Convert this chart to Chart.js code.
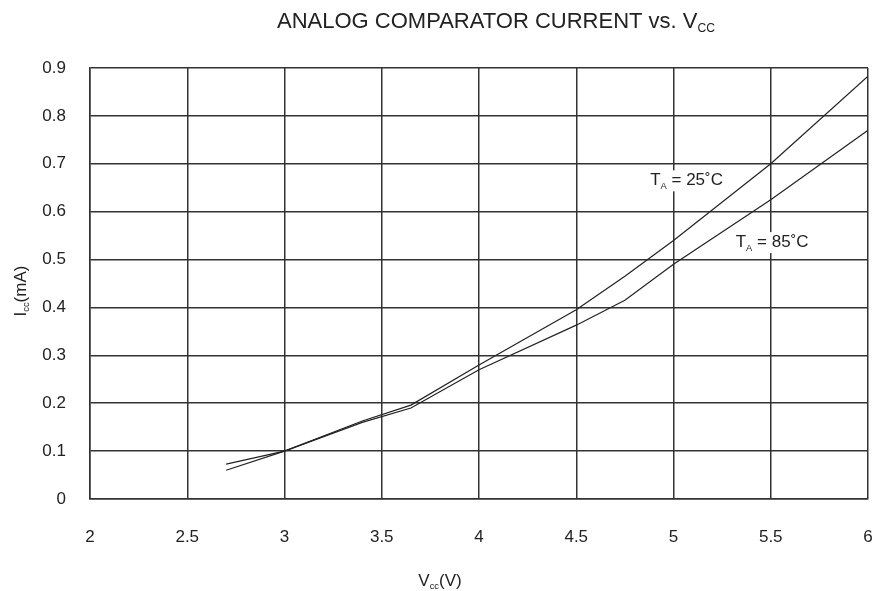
<!DOCTYPE html>
<html>
<head>
<meta charset="utf-8">
<script src="https://cdn.jsdelivr.net/npm/chart.js@4"></script>
<style>
  html, body { margin: 0; padding: 0; background: #fff; }
  #wrap { width: 882px; height: 591px; position: relative; }
</style>
</head>
<body>
<div id="wrap"><canvas id="myChart"></canvas></div>
<script>
const lineColor = '#222';
const gridColor = '#333';
const fontFamily = '"Liberation Sans", Arial, sans-serif';

const vcc = [2.7, 3.0, 3.4, 3.65, 4.0, 4.5, 4.75, 5.0, 5.5, 6.0];
const icc25 = [0.06, 0.1, 0.163, 0.196, 0.28, 0.395, 0.465, 0.54, 0.7, 0.883];
const icc85 = [0.073, 0.1, 0.16, 0.19, 0.27, 0.363, 0.415, 0.49, 0.625, 0.77];

const xTicks = [2, 2.5, 3, 3.5, 4, 4.5, 5, 5.5, 6];
const yTicks = [0, 0.1, 0.2, 0.3, 0.4, 0.5, 0.6, 0.7, 0.8, 0.9];

let toPoints = (xs, ys) => xs.map((x, i) => ({x: x, y: ys[i]}));

// draw text with a subscript part: parts = [[text, isSub], ...]
function drawParts(ctx, parts, x, y, size, align) {
  let widths = parts.map(p => {
    ctx.font = (p[1] ? size * 0.55 : size) + 'px ' + fontFamily;
    return ctx.measureText(p[0]).width;
  });
  let total = widths.reduce((a, b) => a + b, 0);
  let cx = align === 'center' ? x - total / 2 : x;
  parts.forEach((p, i) => {
    ctx.font = (p[1] ? size * 0.55 : size) + 'px ' + fontFamily;
    ctx.fillText(p[0], cx, p[1] ? y + size * 0.2 : y);
    cx += widths[i];
  });
  return total;
}

const textPlugin = {
  id: 'texts',
  afterDraw(chart) {
    const ctx = chart.ctx;
    const xs = chart.scales.x, ys = chart.scales.y;
    ctx.save();
    ctx.fillStyle = '#222';
    ctx.textBaseline = 'alphabetic';
    ctx.textAlign = 'left';

    // title
    drawParts(ctx, [['ANALOG COMPARATOR CURRENT vs. V', false], ['CC', true]], 277, 28, 22, 'left');

    // x axis title
    drawParts(ctx, [['V', false], ['cc', true], ['(V)', false]], 440, 586, 17, 'center');

    // y axis title, rotated
    ctx.save();
    ctx.translate(26, 291);
    ctx.rotate(-Math.PI / 2);
    drawParts(ctx, [['I', false], ['cc', true], ['(mA)', false]], 0, 0, 17, 'center');
    ctx.restore();

    // curve labels, white box behind
    const labels = [
      {x: 4.88, y: 0.655, parts: [['T', false], ['A', true], [' = 25\u02DAC', false]]},
      {x: 5.32, y: 0.526, parts: [['T', false], ['A', true], [' = 85\u02DAC', false]]}
    ];
    labels.forEach(l => {
      const px = xs.getPixelForValue(l.x);
      const py = ys.getPixelForValue(l.y);
      ctx.fillStyle = '#fff';
      ctx.fillRect(px - 3, py - 15, 80, 21);
      ctx.fillStyle = '#222';
      drawParts(ctx, l.parts, px, py, 17, 'left');
    });
    ctx.restore();
  }
};

const data = {
  datasets: [{
    label: 'TA = 25C',
    data: toPoints(vcc, icc25),
    borderColor: lineColor,
    borderWidth: 1.2,
    pointRadius: 0,
    tension: 0
  },
  {
    label: 'TA = 85C',
    data: toPoints(vcc, icc85),
    borderColor: lineColor,
    borderWidth: 1.2,
    pointRadius: 0,
    tension: 0
  }]
};

const config = {
  type: 'line',
  data: data,
  options: {
    responsive: true,
    maintainAspectRatio: false,
    animation: false,
    layout: { padding: { top: 68, right: 14, left: 0, bottom: 0 } },
    plugins: { legend: { display: false }, tooltip: { enabled: false } },
    scales: {
      x: {
        type: 'linear',
        min: 2, max: 6,
        afterFit: s => { s.height = 92; s.paddingRight = 0; s.paddingLeft = 0; },
        afterBuildTicks: s => { s.ticks = xTicks.map(v => ({value: v})); },
        grid: { color: gridColor, lineWidth: 1.5, drawTicks: false },
        border: { color: gridColor, width: 1.5 },
        ticks: {
          color: '#222',
          padding: 28,
          font: { family: fontFamily, size: 17 },
          callback: v => String(v)
        }
      },
      y: {
        min: 0, max: 0.9,
        afterFit: s => { s.width = 90; s.paddingTop = 0; s.paddingBottom = 0; },
        afterBuildTicks: s => { s.ticks = yTicks.map(v => ({value: v})); },
        grid: { color: gridColor, lineWidth: 1.5, drawTicks: false },
        border: { color: gridColor, width: 1.5 },
        ticks: {
          color: '#222',
          padding: 24,
          font: { family: fontFamily, size: 17 },
          callback: v => String(Math.round(v * 10) / 10)
        }
      }
    }
  },
  plugins: [textPlugin]
};

new Chart(document.getElementById('myChart'), config);
</script>
</body>
</html>
